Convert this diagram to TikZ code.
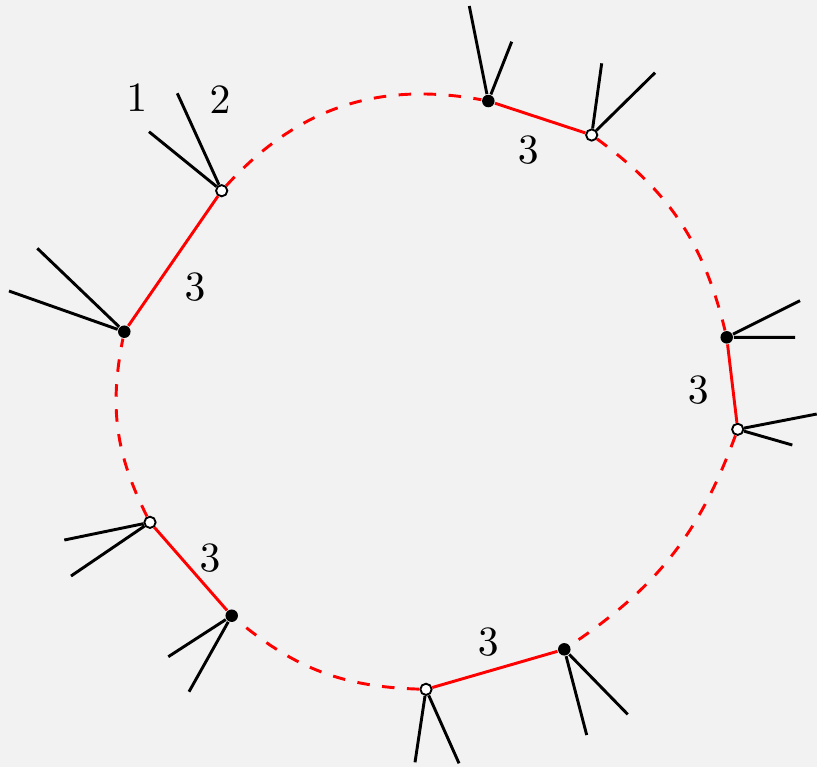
\documentclass[tikz,border=0pt]{standalone}

\begin{document}
\begin{tikzpicture}[x=0.24pt, y=-0.24pt,
    blk/.style={circle, fill=black, inner sep=0pt, minimum size=3pt},
    wht/.style={circle, draw=black, fill=white, line width=0.45pt, inner sep=0pt, minimum size=2.7pt},
    leg/.style={line width=0.7pt},
    chord/.style={red, line width=0.7pt},
    arcd/.style={red, dashed, line width=0.7pt},
    lbl/.style={inner sep=0pt}]
    \fill[gray!10] (0,0) rectangle (817,767);
    \useasboundingbox (0,0) rectangle (817,767);

    \node[wht] (w1) at (221.7,190.7) {};
    \node[blk] (b1) at (124.3,331.7) {};
    \node[wht] (w2) at (150,522.3) {};
    \node[blk] (b2) at (231.7,615.7) {};
    \node[wht] (w3) at (426,689.3) {};
    \node[blk] (b3) at (564.3,649.3) {};
    \node[wht] (w4) at (737.7,429.3) {};
    \node[blk] (b4) at (726.7,337.3) {};
    \node[wht] (w5) at (591.7,135) {};
    \node[blk] (b5) at (488.3,101) {};

    \coordinate (w1-1) at (149,131.7);   \coordinate (w1-2) at (177.3,93.3);
    \coordinate (b1-1) at (37.3,248.3);  \coordinate (b1-2) at (9,291);
    \coordinate (w2-1) at (64.3,540);    \coordinate (w2-2) at (71,576);
    \coordinate (b2-1) at (168.3,656.7); \coordinate (b2-2) at (189,691.7);
    \coordinate (w3-1) at (415,762.3);   \coordinate (w3-2) at (459,763.3);
    \coordinate (b3-1) at (586.7,735);   \coordinate (b3-2) at (627.7,714.3);
    \coordinate (w4-1) at (816.7,414);   \coordinate (w4-2) at (792.3,445);
    \coordinate (b4-1) at (800,300.7);   \coordinate (b4-2) at (795,337.3);
    \coordinate (w5-1) at (601.7,63.3);  \coordinate (w5-2) at (655,72.7);
    \coordinate (b5-1) at (469.3,6);     \coordinate (b5-2) at (511.7,41.7);

    \foreach \v in {w1,b1,w2,b2,w3,b3,w4,b4,w5,b5}
      \draw[leg] (\v) -- (\v-1) (\v) -- (\v-2);

    \draw[chord] (b1) -- (w1);
    \draw[chord] (w2) -- (b2);
    \draw[chord] (w3) -- (b3);
    \draw[chord] (w4) -- (b4);
    \draw[chord] (w5) -- (b5);

    \draw[arcd] (w1) to[bend left=29] (b5);
    \draw[arcd] (w5) to[bend left=20] (b4);
    \draw[arcd] (w4) to[bend left=18] (b3);
    \draw[arcd] (w3) to[bend left=19] (b2);
    \draw[arcd] (w2) to[bend left=19] (b1);

    \node[lbl] (one) at (136.7,98.3) {$1$};
    \node[lbl] (two) at (220,100) {$2$};
    \node[lbl] (m1) at (195,286.7) {$3$};
    \node[lbl] (m2) at (528.3,150) {$3$};
    \node[lbl] (m3) at (698.3,390) {$3$};
    \node[lbl] (m4) at (488.3,641.7) {$3$};
    \node[lbl] (m5) at (210,558.3) {$3$};
\end{tikzpicture}
\end{document}
